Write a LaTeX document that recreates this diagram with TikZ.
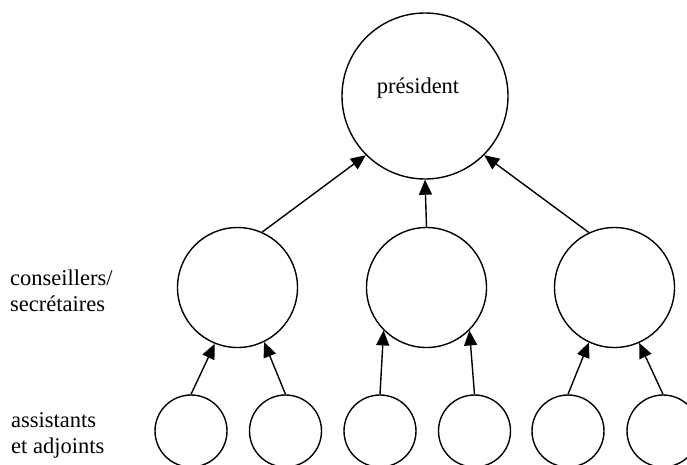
\documentclass[tikz,border=0pt]{standalone}
\usepackage{fontspec}
\setmainfont{Liberation Serif}
\usetikzlibrary{arrows.meta}
\begin{document}
\begin{tikzpicture}[x=1pt,y=-1pt,
  member/.style={circle,draw,line width=1.4pt,inner sep=0pt},
  bigcirc/.style={member,minimum size=166pt},
  midcirc/.style={member,minimum size=120pt},
  smallcirc/.style={member,minimum size=72pt},
  report/.style={line width=1.4pt,-{Triangle[length=15pt,width=13pt]}},
  lbl/.style={font=\fontsize{22.5}{26}\selectfont,inner sep=0pt}]
\useasboundingbox (0,0) rectangle (687,464);
\clip (0,0) rectangle (687,464);

% head of the hierarchy
\node[bigcirc] (pres) at (425,96) {};
\node[lbl,anchor=base] (presl) at (418,93) {président};

% advisers / secretaries
\node[midcirc] (c1) at (237.5,287.5) {};
\node[midcirc] (c2) at (426.5,287.5) {};
\node[midcirc] (c3) at (614.5,287.5) {};

% assistants and deputies
\node[smallcirc] (a1) at (191,431) {};
\node[smallcirc] (a2) at (285.5,431) {};
\node[smallcirc] (a3) at (380,431) {};
\node[smallcirc] (a4) at (474.5,431) {};
\node[smallcirc] (a5) at (568,431) {};
\node[smallcirc] (a6) at (663,431) {};

% level captions
\node[lbl,anchor=base west] (l1) at (10,285) {conseillers/};
\node[lbl,anchor=base west] (l2) at (10,311) {secrétaires};
\node[lbl,anchor=base west] (l3) at (11,427) {assistants};
\node[lbl,anchor=base west] (l4) at (11,453) {et adjoints};

% reporting lines
\draw[report] (c1.66) -- (pres.225);
\draw[report] (c2.north) -- (pres.south);
\draw[report] (c3.115) -- (pres.315);

\draw[report] (a1.north) -- (c1.248);
\draw[report] (a2.north) -- (c1.296);
\draw[report] (a3.north) -- (c2.225);
\draw[report] (a4.north) -- (c2.315);
\draw[report] (a5.north) -- (c3.245);
\draw[report] (a6.north) -- (c3.294);
\end{tikzpicture}
\end{document}
